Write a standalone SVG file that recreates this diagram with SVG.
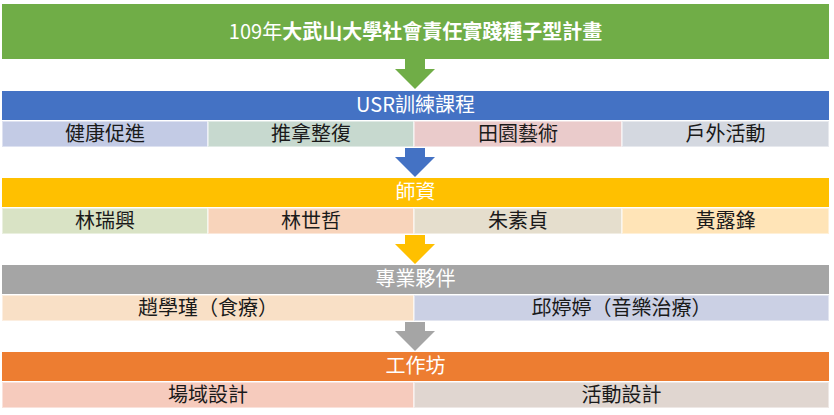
<svg xmlns="http://www.w3.org/2000/svg" width="834" height="415" viewBox="0 0 834 415">
<style>
text{font-family:"Noto Sans CJK TC","Noto Sans",sans-serif;font-size:20px;text-anchor:middle}
.hd{fill:#FFFFFF}
.sb{fill:#1A1A1A}
.cell{stroke:#FFFFFF;stroke-opacity:0.45;stroke-width:2}
</style>
<rect width="834" height="415" fill="#FFFFFF"/>
<g id="connectors">
<polygon points="405,59 425,59 425,69 435,69 415,89 395,69 405,69" fill="#70AD47"/>
<polygon points="405,148 425,148 425,157 435,157 415,177 395,157 405,157" fill="#4472C4"/>
<polygon points="405,235 425,235 425,244 435,244 415,264 395,244 405,244" fill="#FFC000"/>
<polygon points="405,322 425,322 425,331 435,331 415,351 395,331 405,331" fill="#A5A5A5"/>
</g>
<g id="title">
<rect x="2" y="4" width="827" height="55" fill="#70AD47"/>
<text x="415.5" y="39" class="hd">109年<tspan font-weight="bold">大武山大學社會責任實踐種子型計畫</tspan></text>
</g>
<g id="usr">
<rect x="2" y="91" width="827" height="29" fill="#4472C4"/>
<text x="415.5" y="112" class="hd">USR訓練課程</text>
</g>
<g id="usr-1"><rect class="cell" x="2" y="121" width="206" height="26" fill="#C3CBE5"/><text x="105" y="141" class="sb">健康促進</text></g>
<g id="usr-2"><rect class="cell" x="208" y="121" width="206" height="26" fill="#C7D9CF"/><text x="311" y="141" class="sb">推拿整復</text></g>
<g id="usr-3"><rect class="cell" x="414" y="121" width="208" height="26" fill="#EACBCB"/><text x="518" y="141" class="sb">田園藝術</text></g>
<g id="usr-4"><rect class="cell" x="622" y="121" width="207" height="26" fill="#D4D8E0"/><text x="725.5" y="141" class="sb">戶外活動</text></g>
<g id="teachers">
<rect x="2" y="178" width="827" height="29" fill="#FFC000"/>
<text x="415.5" y="199" class="hd">師資</text>
</g>
<g id="t-1"><rect class="cell" x="2" y="208" width="206" height="26" fill="#D9E3C5"/><text x="105" y="228" class="sb">林瑞興</text></g>
<g id="t-2"><rect class="cell" x="208" y="208" width="206" height="26" fill="#F8D4BB"/><text x="311" y="228" class="sb">林世哲</text></g>
<g id="t-3"><rect class="cell" x="414" y="208" width="208" height="26" fill="#E5DECD"/><text x="518" y="228" class="sb">朱素貞</text></g>
<g id="t-4"><rect class="cell" x="622" y="208" width="207" height="26" fill="#FFE4B7"/><text x="725.5" y="228" class="sb">黃露鋒</text></g>
<g id="partners">
<rect x="2" y="265" width="827" height="29" fill="#A5A5A5"/>
<text x="415.5" y="286" class="hd">專業夥伴</text>
</g>
<g id="p-1"><rect class="cell" x="2" y="295" width="412" height="26" fill="#F9E0C6"/><text x="208" y="315" class="sb">趙學瑾（食療）</text></g>
<g id="p-2"><rect class="cell" x="414" y="295" width="415" height="26" fill="#CBD0E4"/><text x="621.5" y="315" class="sb">邱婷婷（音樂治療）</text></g>
<g id="workshop">
<rect x="2" y="352" width="827" height="29" fill="#ED7D31"/>
<text x="415.5" y="373" class="hd">工作坊</text>
</g>
<g id="w-1"><rect class="cell" x="2" y="382" width="412" height="26" fill="#F6CBBD"/><text x="208" y="402" class="sb">場域設計</text></g>
<g id="w-2"><rect class="cell" x="414" y="382" width="415" height="26" fill="#E0D6D0"/><text x="621.5" y="402" class="sb">活動設計</text></g>
</svg>
